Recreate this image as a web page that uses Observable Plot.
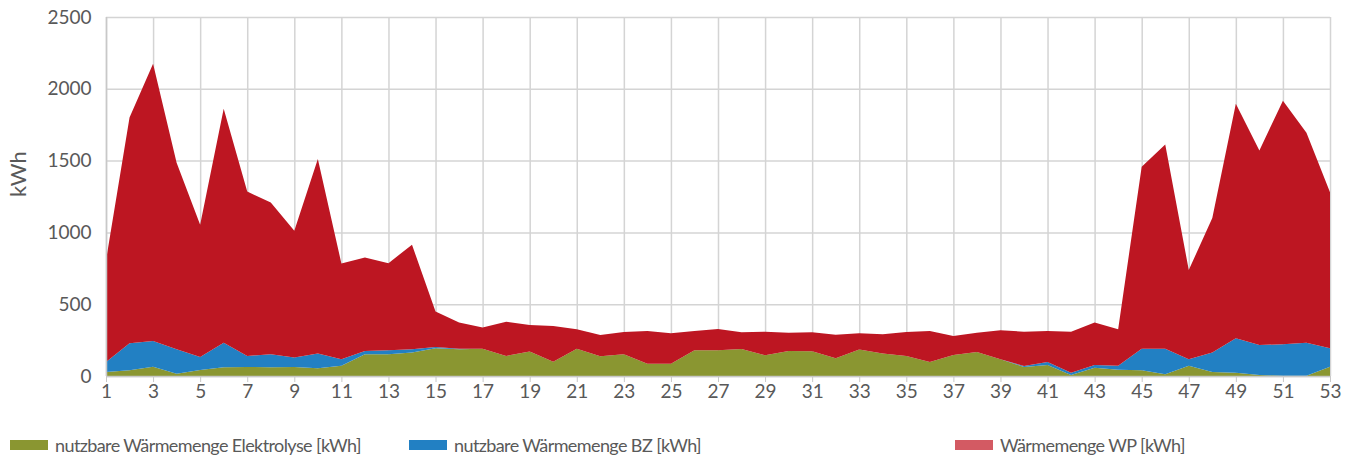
<!DOCTYPE html>
<html>
<head>
<meta charset="utf-8">
<script src="https://cdn.jsdelivr.net/npm/d3@7"></script>
<script src="https://cdn.jsdelivr.net/npm/@observablehq/plot@0.6"></script>
<style>
  html, body { margin: 0; padding: 0; background: #fff; }
  body { width: 1363px; height: 459px; position: relative; overflow: hidden; font-family: Lato, "Open Sans", sans-serif; }
  #chart { position: absolute; left: 0; top: 0; }
  .legend { position: absolute; top: 434px; left: 0; width: 1363px; height: 24px; font-size: 18px; letter-spacing: -0.6px; color: #595959; }
  .item { position: absolute; top: 0; display: flex; align-items: center; white-space: nowrap; }
  .sw { display: inline-block; width: 38px; height: 10px; margin-right: 7px; }
</style>
</head>
<body>
<div id="chart"></div>
<div class="legend" id="legend"></div>
<script>
const weeks = d3.range(1, 54);
const seriesNames = [
  "nutzbare Wärmemenge Elektrolyse [kWh]",
  "nutzbare Wärmemenge BZ [kWh]",
  "Wärmemenge WP [kWh]"
];
const seriesColors = ["#8a9631", "#2280c3", "#bd1622"];
const legendColors = ["#8a9631", "#2280c3", "#d35a63"];

const elektrolyse = [28,40,65,16,42,61,63,61,63,54,72,151,151,163,193,186,190,140,170,100,190,137,151,86,86,179,179,188,144,174,172,123,184,156,140,98,147,167,116,63,77,7,58,44,40,12,72,28,23,7,2,2,65];
const bz = [70,188,179,170,91,171,77,90,65,102,44,23,28,23,9,4,0,0,0,0,0,0,0,0,0,0,0,0,0,0,0,0,0,0,0,0,0,0,0,7,21,16,19,28,150,178,44,135,240,209,219,230,128];
const wp = [707,1572,1931,1299,921,1629,1144,1058,884,1356,668,652,607,728,247,182,147,237,186,249,136,149,156,228,212,135,149,117,165,128,133,165,114,135,167,216,132,135,203,239,216,286,295,254,1268,1422,622,937,1633,1354,1696,1462,1086];

const xTicks = d3.range(1, 54, 2);
const yTicks = [0, 500, 1000, 1500, 2000, 2500];
const yLabel = "kWh";

const seriesValues = [elektrolyse, bz, wp];
const data = [];
seriesNames.forEach((s, i) => {
  weeks.forEach((w, j) => data.push({week: w, value: seriesValues[i][j], series: s}));
});

const chart = Plot.plot({
  width: 1363,
  height: 410,
  marginTop: 17,
  marginBottom: 34,
  marginLeft: 106,
  marginRight: 33,
  style: {fontFamily: "Lato, 'Open Sans', sans-serif", fontSize: "18px", color: "#595959", background: "#fff"},
  x: {domain: [1, 53]},
  y: {domain: [0, 2500]},
  color: {domain: seriesNames, range: seriesColors},
  marks: [
    Plot.gridY(yTicks, {stroke: "#d4d4d4", strokeOpacity: 1, strokeWidth: 1.5}),
    Plot.gridX(xTicks, {stroke: "#d4d4d4", strokeOpacity: 1, strokeWidth: 1.5}),
    Plot.areaY(data, {x: "week", y: "value", fill: "series", order: seriesNames}),
    Plot.ruleX([1], {stroke: "#c8c8c8", strokeWidth: 1.5}),
    Plot.ruleY([0], {stroke: "#c8c8c8", strokeWidth: 1.5}),
    Plot.axisX({ticks: xTicks, tickSize: 6, tickPadding: 2, stroke: "#c8c8c8", fontSize: 19, fill: "#595959", label: null, tickFormat: d3.format("d")}),
    Plot.axisY({ticks: yTicks, tickSize: 0, tickPadding: 15, fontSize: 19, fill: "#595959", label: null, tickFormat: d3.format("d")}),
    Plot.text([yLabel], {frameAnchor: "left", rotate: -90, dx: -88, fontSize: 22, fill: "#595959", text: d => d})
  ]
});
document.getElementById("chart").appendChild(chart);

const legendPos = [10, 409, 955];
const legend = document.getElementById("legend");
seriesNames.forEach((s, i) => {
  const item = document.createElement("div");
  item.className = "item";
  item.style.left = legendPos[i] + "px";
  item.innerHTML = `<span class="sw" style="background:${legendColors[i]}"></span><span>${s}</span>`;
  legend.appendChild(item);
});
</script>
</body>
</html>
